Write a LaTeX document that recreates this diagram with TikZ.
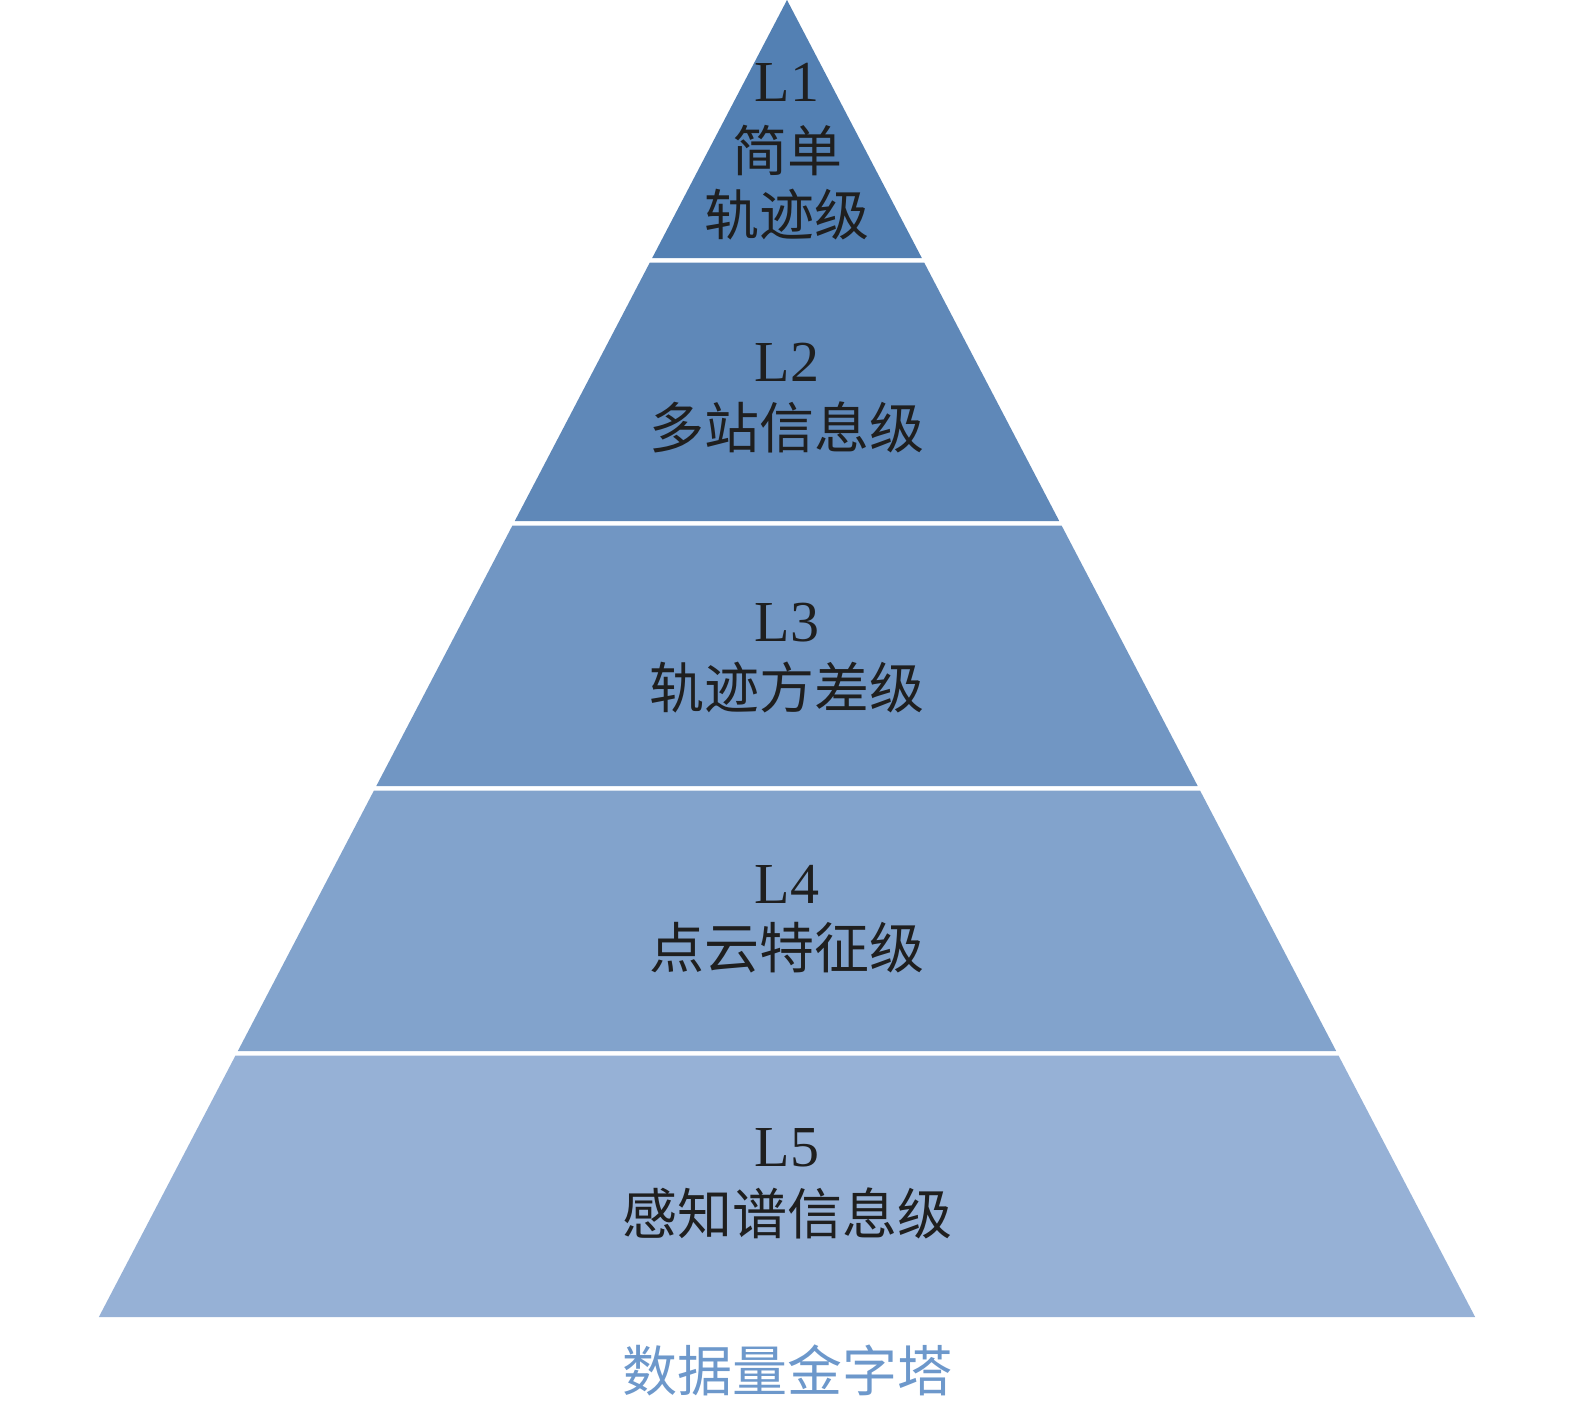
\documentclass[tikz,border=0pt]{standalone}
\usepackage{fontspec}
\setmainfont{Liberation Serif}
\newfontfamily\cjk{Noto Sans CJK SC}
\definecolor{cA}{HTML}{5380B3}
\definecolor{cB}{HTML}{5F88B8}
\definecolor{cC}{HTML}{7196C3}
\definecolor{cD}{HTML}{82A3CC}
\definecolor{cE}{HTML}{96B1D6}
\definecolor{ttl}{HTML}{6D98CB}
\tikzset{
  lat/.style={font=\fontsize{58}{66}\selectfont, text=black!88, inner sep=0pt},
  han/.style={font=\cjk\fontsize{55}{66}\selectfont, text=black!88, inner sep=0pt},
}
\newcommand{\band}[3]{% top y, bottom y, colour
  \fill[#3] ({787-0.5225*#1},#1) -- ({787+0.5225*#1},#1) -- ({787+0.5225*#2},#2) -- ({787-0.5225*#2},#2) -- cycle;}
\begin{document}
\begin{tikzpicture}[x=1pt,y=-1pt]
\useasboundingbox (0,0) rectangle (1575,1411);
\band{0}{258}{cA}
\band{262.5}{521}{cB}
\band{525.5}{786}{cC}
\band{790.5}{1051}{cD}
\band{1055.5}{1317}{cE}
\node[lat] (l1) at (787,82) {L1};
\node[han] (t1a) at (787,150) {简单};
\node[han] (t1b) at (787,215) {轨迹级};
\node[lat] (l2) at (787,362) {L2};
\node[han] (t2) at (787,427) {多站信息级};
\node[lat] (l3) at (787,623) {L3};
\node[han] (t3) at (787,688) {轨迹方差级};
\node[lat] (l4) at (787,884) {L4};
\node[han] (t4) at (787,948) {点云特征级};
\node[lat] (l5) at (787,1148) {L5};
\node[han] (t5) at (787,1213) {感知谱信息级};
\node[han, text=ttl] (title) at (787,1370) {数据量金字塔};
\end{tikzpicture}
\end{document}
